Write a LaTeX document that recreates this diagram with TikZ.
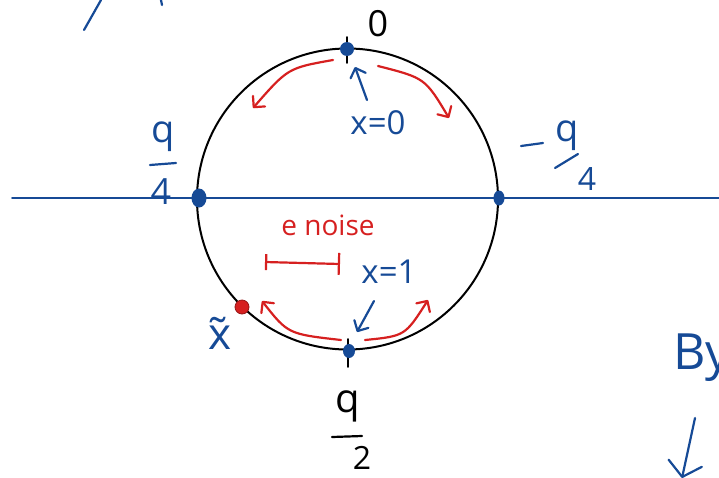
\documentclass[tikz,border=0pt]{standalone}
\usepackage{fontspec}
\setmainfont{Open Sans}
\usetikzlibrary{arrows.meta,shapes.geometric}
\definecolor{penblue}{RGB}{22,74,150}
\definecolor{penred}{RGB}{214,32,32}
\begin{document}
\begin{tikzpicture}[x=1pt,y=-1pt,
  bl/.style={draw=penblue, line width=2.2pt, line cap=round, line join=round},
  rd/.style={draw=penred, line width=2.2pt, line cap=round, line join=round},
  bk/.style={draw=black, line width=2.2pt, line cap=round},
  barb/.style={-{Straight Barb[length=8pt,width=16pt,round]}},
  bdot/.style={ellipse, fill=penblue, inner sep=0pt, minimum width=#1},
  btxt/.style={text=penblue, inner sep=0pt, font=\fontsize{#1}{#1}\selectfont},
  rtxt/.style={text=penred, inner sep=0pt, font=\fontsize{#1}{#1}\selectfont},
  ktxt/.style={text=black, inner sep=0pt, font=\fontsize{#1}{#1}\selectfont}]
\useasboundingbox (0,0) rectangle (719,477);
% stray strokes top-left
\coordinate (s1a) at (84,30); \coordinate (s1b) at (101,0);
\draw[bl] (s1a) -- (s1b);
\coordinate (s2a) at (161,0); \coordinate (s2b) at (162,5);
\draw[bl] (s2a) -- (s2b);
% axis
\coordinate (axl) at (12,198); \coordinate (axr) at (719,198);
\draw[bl, line width=1.8pt] (axl) -- (axr);
% circle
\coordinate (cc) at (347.5,199);
\draw[black, line width=2pt] (cc) circle[radius=150.5];
% ticks
\coordinate (tt1) at (347,37); \coordinate (tt2) at (347,63);
\draw[bk, line width=1.8pt] (tt1) -- (tt2);
\coordinate (bt1) at (348,339); \coordinate (bt2) at (348,367);
\draw[bk, line width=1.8pt] (bt1) -- (bt2);
% dots
\node[bdot=14pt, minimum height=14pt] (ptop) at (347,49) {};
\node[bdot=12pt, minimum height=14pt] (pbot) at (349,351) {};
\node[bdot=15pt, minimum height=19pt] (pleft) at (199,198) {};
\node[bdot=11pt, minimum height=15pt] (pright) at (499,198) {};
\node[circle, fill=penred, draw=penred!70!black, line width=0.8pt, inner sep=0pt, minimum size=14pt] (xt) at (242,307) {};
% labels
\node[ktxt=36] (zero) at (378,24) {0};
\node[btxt=33] (x0) at (378,123) {x=0};
\node[btxt=33] (x1) at (389,272) {x=1};
\node[rtxt=28] (noise) at (328,225) {e noise};
\node[btxt=44] (xtl) at (220,333) {\~{x}};
% q/4 left
\node[btxt=38] (ql) at (163,137) {q};
\coordinate (qlb1) at (150,165); \coordinate (qlb2) at (176,163);
\draw[bl] (qlb1) -- (qlb2);
\node[btxt=36] (fl) at (161,192) {4};
% -q/4 right
\coordinate (mr1) at (521,146); \coordinate (mr2) at (543,143);
\draw[bl] (mr1) -- (mr2);
\node[btxt=38] (qr) at (567,136) {q};
\coordinate (sr1) at (555,168); \coordinate (sr2) at (578,154);
\draw[bl] (sr1) -- (sr2);
\node[btxt=32] (fr) at (587,179) {4};
% q/2 bottom
\node[ktxt=40] (qb) at (348,406) {q};
\coordinate (bb1) at (332,437); \coordinate (bb2) at (362,436);
\draw[bk] (bb1) -- (bb2);
\node[ktxt=32] (tb) at (362,458) {2};
% By
\node[btxt=50, anchor=west] (by) at (673,358) {By};
% red arrows
\coordinate (ra1) at (333,60); \coordinate (ra2) at (253,108);
\draw[rd, barb] (ra1) .. controls (288,68) .. (ra2);
\coordinate (rb1) at (378,66); \coordinate (rb2) at (449,118);
\draw[rd, barb] (rb1) .. controls (425,78) .. (rb2);
\coordinate (rc1) at (341,340); \coordinate (rc2) at (262,301);
\draw[rd, barb] (rc1) .. controls (288,334) .. (rc2);
\coordinate (rd1) at (365,340); \coordinate (rd2) at (428,300);
\draw[rd, barb] (rd1) .. controls (405,336) .. (rd2);
% noise interval
\coordinate (ni1) at (265,262); \coordinate (ni2) at (340,264);
\draw[rd, {Bar[width=16pt]}-{Bar[width=22pt]}] (ni1) -- (ni2);
% blue arrows
\coordinate (ba1) at (367,100); \coordinate (ba2) at (355,67);
\draw[bl, barb] (ba1) -- (ba2);
\coordinate (bb3) at (374,301); \coordinate (bb4) at (357,332);
\draw[bl, barb] (bb3) -- (bb4);
\coordinate (bc1) at (695,418); \coordinate (bc2) at (682,478);
\draw[bl, -{Straight Barb[length=14pt,width=34pt,round]}] (bc1) -- (bc2);
\end{tikzpicture}
\end{document}
